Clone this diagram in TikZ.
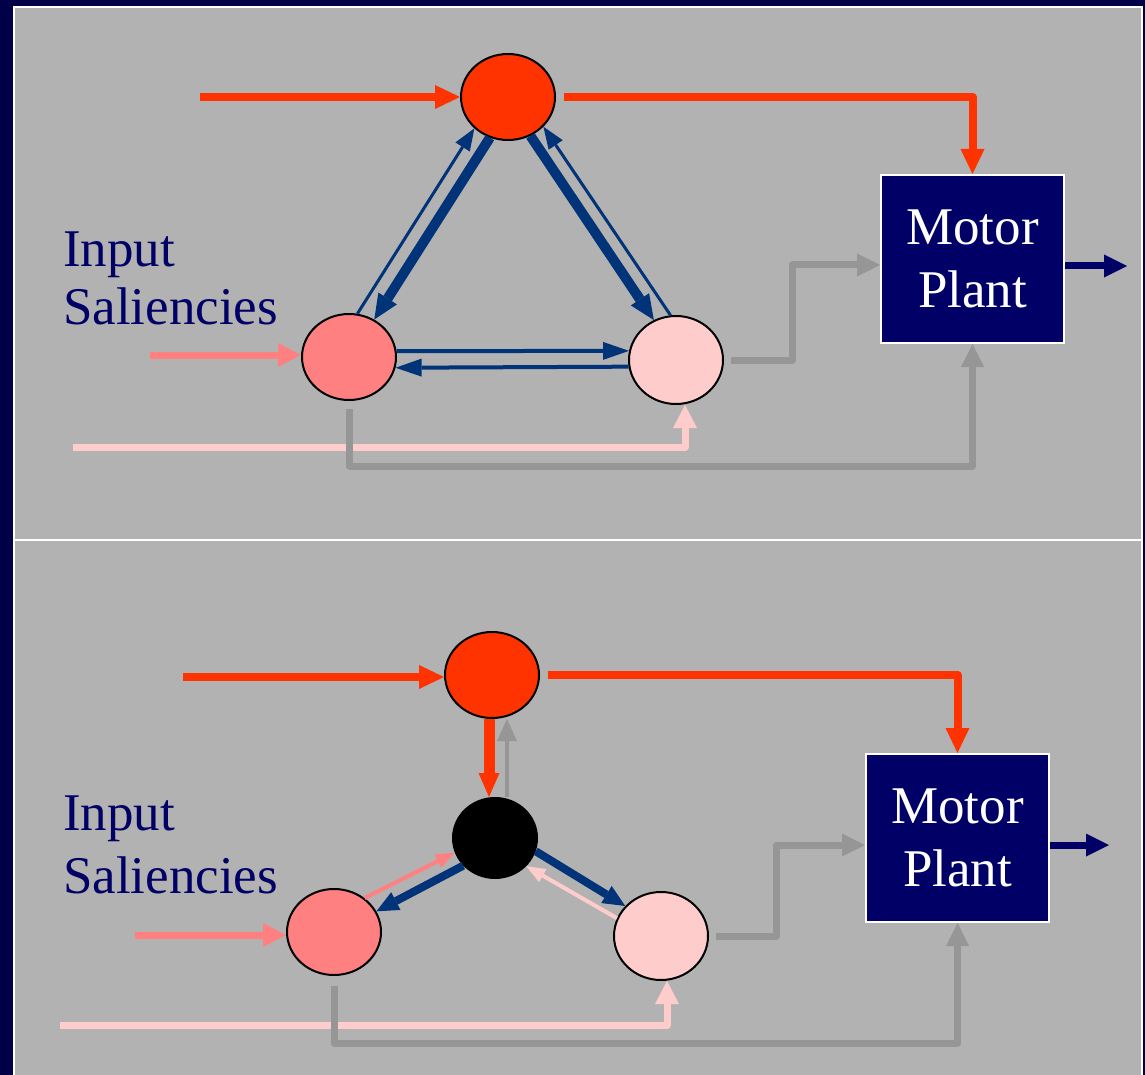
\documentclass[tikz,border=0pt]{standalone}
\usepackage{fontspec}
\setmainfont{Liberation Serif}
\usetikzlibrary{arrows.meta,shapes.geometric}
\definecolor{slideblue}{HTML}{000048}
\definecolor{plantblue}{HTML}{000066}
\definecolor{panelgray}{HTML}{B2B2B2}
\definecolor{wiregray}{HTML}{969696}
\definecolor{linkblue}{HTML}{003378}
\definecolor{hotred}{HTML}{FF3300}
\definecolor{salpink}{HTML}{FF8080}
\definecolor{palepink}{HTML}{FFCCCC}
\tikzset{
  unit/.style={ellipse, draw, line width=2pt, minimum width=94pt, minimum height=86pt, inner sep=0pt},
  plant/.style={draw=white, line width=2pt, fill=plantblue, text=white, align=center, minimum width=183pt, minimum height=168pt, inner sep=0pt, font=\fontsize{53}{63}\selectfont},
  inlbl/.style={text=plantblue, align=left, anchor=north west, inner sep=0pt, font=\fontsize{53}{#1}\selectfont},
  panel/.style={draw=white, line width=2pt, fill=panelgray},
  redarr/.style={hotred, line width=8pt, line join=round, -{Triangle[length=25pt, width=24pt, line width=0pt]}},
  reddown/.style={hotred, line width=11pt, -{Triangle[length=24pt, width=21pt, line width=0pt]}},
  grayarr/.style={wiregray, line width=7pt, line join=round, -{Triangle[length=23pt, width=23pt, line width=0pt]}},
  grayup/.style={wiregray, line width=4pt, -{Triangle[length=22pt, width=20pt, line width=0pt]}},
  pinkarr/.style={salpink, line width=7pt, -{Triangle[length=23pt, width=24pt, line width=0pt]}},
  palearr/.style={palepink, line width=7pt, line join=round, -{Triangle[length=23pt, width=24pt, line width=0pt]}},
  pinkthin/.style={salpink, line width=4pt, -{Triangle[length=19pt, width=15pt, line width=0pt]}},
  palethin/.style={palepink, line width=4pt, -{Triangle[length=19pt, width=15pt, line width=0pt]}},
  outarr/.style={plantblue, line width=7pt, -{Triangle[length=23pt, width=23pt, line width=0pt]}},
  thicklink/.style={linkblue, line width=10pt, -{Triangle[length=25pt, width=22pt, line width=0pt]}},
  thicklinkb/.style={linkblue, line width=8pt, -{Triangle[length=22pt, width=20pt, line width=0pt]}},
  midlink/.style={linkblue, line width=4pt, -{Triangle[length=26pt, width=18pt, line width=0pt]}},
  thinlink/.style={linkblue, line width=3pt, -{Triangle[length=22pt, width=17pt, line width=0pt]}}}

\begin{document}
\begin{tikzpicture}[x=1pt, y=-1pt]
  \useasboundingbox (0,0) rectangle (1145,1075);
  \fill[slideblue] (0,0) rectangle (1145,1075);
  \draw[panel] (14,7) rectangle (1142,540);
  \draw[panel] (14,540) rectangle (1142,1085);

  \node[unit, fill=hotred] (top1) at (508,97) {};
  \node[unit, fill=salpink] (left1) at (349,357) {};
  \node[unit, fill=palepink, minimum height=88pt] (right1) at (676,360) {};
  \node[plant] (plant1) at (972.5,259) {Motor\\Plant};
  \node[inlbl=58] (sal1) at (63,232) {Input\\Saliencies};
  \coordinate (red1) at (200,97);
  \coordinate (pink1) at (150,355);
  \coordinate (pale1) at (73,447);
  \coordinate (out1) at (1127,266);
  \draw[redarr] (red1) -- (top1.west);
  \draw[redarr] ([xshift=8pt]top1.east) -| (plant1.north);
  \draw[thinlink] (left1.79) -- (top1.223);
  \draw[thicklink] (top1.246) -- (left1.56);
  \draw[thicklink] (top1.300) -- (right1.119);
  \draw[thinlink] (right1.97) -- (top1.320);
  \draw[midlink] (left1.7) -- (right1.169);
  \draw[midlink] (right1.188) -- (left1.347);
  \draw[pinkarr] (pink1) -- (pink1 -| left1.west);
  \draw[palearr] (pale1) -| ([xshift=9pt]right1.south);
  \draw[grayarr] ([xshift=7pt]right1.east) -- ++(61,0) |- ([yshift=-6pt]plant1.west);
  \draw[grayarr] ([yshift=-8pt]left1.south) -- ++(0,57) -| (plant1.south);
  \draw[outarr] (plant1.east |- out1) -- (out1);

  \node[unit, fill=hotred] (top2) at (492,675) {};
  \node[unit, fill=black, minimum width=84pt, minimum height=80pt] (hub2) at (495,838) {};
  \node[unit, fill=salpink] (left2) at (334,932) {};
  \node[unit, fill=palepink, minimum height=88pt] (right2) at (661,936) {};
  \node[plant] (plant2) at (957.5,838) {Motor\\Plant};
  \node[inlbl=63] (sal2) at (63,796) {Input\\Saliencies};
  \coordinate (red2) at (183,677);
  \coordinate (pink2) at (135,935);
  \coordinate (pale2) at (60,1025);
  \coordinate (out2) at (1109,845);
  \draw[redarr] (red2) -- (red2 -| top2.west);
  \draw[redarr] ([xshift=8pt]top2.east) -| (plant2.north);
  \draw[reddown] ([xshift=-3pt]top2.south) -- ([xshift=-3pt]top2.south |- hub2.north);
  \draw[grayup] ([xshift=15pt]top2.south |- hub2.north) -- ([xshift=15pt]top2.south);
  \draw[thicklinkb] (hub2.342) -- (right2.140);
  \draw[palethin] (right2.158) -- (hub2.318);
  \draw[pinkthin] (left2.48) -- (hub2.200);
  \draw[thicklinkb] (hub2.221) -- (left2.26);
  \draw[pinkarr] (pink2) -- (pink2 -| left2.west);
  \draw[palearr] (pale2) -| ([xshift=6pt]right2.south);
  \draw[grayarr] ([xshift=7pt]right2.east) -- ++(60,0) |- ([yshift=-7pt]plant2.west);
  \draw[grayarr] ([yshift=-10pt]left2.south) -- ++(0,57) -| (plant2.south);
  \draw[outarr] (plant2.east |- out2) -- (out2);
\end{tikzpicture}
\end{document}
